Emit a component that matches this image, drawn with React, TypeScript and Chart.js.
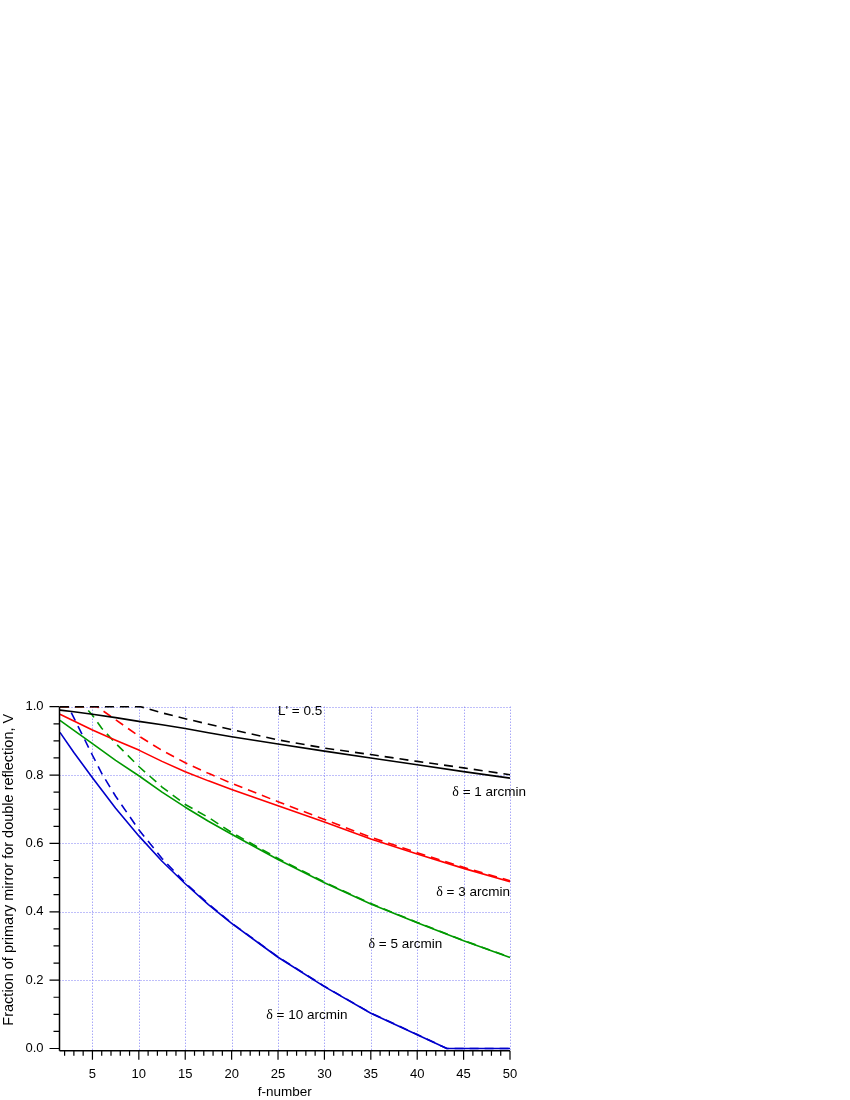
import React, { useEffect, useRef } from "react";
import { Chart, registerables } from "chart.js";

Chart.register(...registerables);

// ---------- data ----------
const fSolid = [1.5, 3, 5, 7.5, 10, 12.5, 15, 17.5, 20, 25, 30, 35, 40, 45, 50];
const vBlack1 = [0.990, 0.985, 0.978, 0.968, 0.957, 0.947, 0.936, 0.924, 0.912, 0.891, 0.870, 0.850, 0.830, 0.810, 0.791];
const vRed3 = [0.978, 0.958, 0.932, 0.902, 0.873, 0.840, 0.810, 0.783, 0.758, 0.710, 0.663, 0.613, 0.569, 0.527, 0.488];
const vGreen5 = [0.960, 0.931, 0.892, 0.843, 0.798, 0.750, 0.706, 0.665, 0.627, 0.553, 0.485, 0.423, 0.368, 0.315, 0.266];
const fBlue10 = [1.5, 3, 5, 7.5, 10, 12.5, 15, 17.5, 20, 25, 30, 35, 40, 43.2, 45, 50];
const vBlue10 = [0.925, 0.866, 0.792, 0.703, 0.622, 0.548, 0.482, 0.421, 0.366, 0.267, 0.181, 0.103, 0.040, 0, 0, 0];

const fBlackDash = [1.5, 10.2, 12.5, 15, 20, 25, 30, 35, 40, 45, 50];
const vBlackDash = [1, 1, 0.982, 0.965, 0.933, 0.903, 0.879, 0.860, 0.840, 0.821, 0.801];
const fRedDash = [1.5, 5.5, 7.5, 10, 12.5, 15, 17.5, 20, 25, 30, 35, 40, 45, 50];
const vRedDash = [1, 1, 0.962, 0.914, 0.872, 0.836, 0.805, 0.776, 0.722, 0.670, 0.618, 0.573, 0.530, 0.491];
const fGreenDash = [1.5, 4.2, 5, 6, 7.5, 10, 12.5, 15, 17.5, 20, 25, 30, 35, 40, 45, 50];
const vGreenDash = [1, 1, 0.975, 0.937, 0.893, 0.825, 0.765, 0.714, 0.676, 0.632, 0.556, 0.487, 0.424, 0.369, 0.316, 0.267];
const fBlueDash = [1.5, 2.4, 5, 6.1, 7.5, 10, 12.5, 15, 17.5, 20, 25, 30, 35, 40, 43.2, 45, 50];
const vBlueDash = [1, 1, 0.858, 0.8, 0.738, 0.640, 0.556, 0.485, 0.423, 0.367, 0.268, 0.182, 0.104, 0.041, 0, 0, 0];

const xMajorTicks = [5, 10, 15, 20, 25, 30, 35, 40, 45, 50];
const yMajorTicks = [0, 0.2, 0.4, 0.6, 0.8, 1.0];

const xTitle = "f-number";
const yTitle = "Fraction of primary mirror for double reflection, V";

const annotationTexts = ["L' = 0.5", "= 1 arcmin", "= 3 arcmin", "= 5 arcmin", "= 10 arcmin"];
const annotationGreek = [false, true, true, true, true];

// ---------- layout / style ----------
const SANS = '"Liberation Sans", Arial, Helvetica, sans-serif';
const SERIF = '"Liberation Serif", "Times New Roman", serif';
const GRID_COLOR = "#7f7ff5";
const BLACK = "#000000";
const RED = "#ff0000";
const GREEN = "#009900";
const BLUE = "#0000cc";
const annotationAt = [
  { x: 25.0, y: 0.976 },
  { x: 43.78, y: 0.740 },
  { x: 42.05, y: 0.446 },
  { x: 34.75, y: 0.295 },
  { x: 23.73, y: 0.085 },
];
const Y_TITLE_X = 8.6;
const Y_TITLE_SHIFT = -9;

const pts = (xs: number[], ys: number[]) => xs.map((x, i) => ({ x, y: ys[i] }));

const line = (data: any, color: string, dashed: boolean) => ({
  data,
  borderColor: color,
  backgroundColor: color,
  borderWidth: 1.6,
  borderDash: dashed ? [9, 6] : [],
  pointRadius: 0,
  tension: 0,
  fill: false,
  clip: 4,
  borderJoinStyle: "round" as const,
});

const framePlugin = {
  id: "igorFrame",
  beforeDatasetsDraw(chart: any) {
    const { ctx, chartArea: a, scales } = chart;
    const xs = scales.x;
    const ys = scales.y;
    ctx.save();
    ctx.strokeStyle = GRID_COLOR;
    ctx.lineWidth = 1;
    ctx.setLineDash([1, 2]);
    for (const v of xMajorTicks) {
      const px = Math.round(xs.getPixelForValue(v)) + 0.5;
      ctx.beginPath();
      ctx.moveTo(px, a.top);
      ctx.lineTo(px, a.bottom);
      ctx.stroke();
    }
    for (const v of yMajorTicks) {
      if (v === 0) continue;
      const py = Math.round(ys.getPixelForValue(v)) + 0.5;
      ctx.beginPath();
      ctx.moveTo(a.left, py);
      ctx.lineTo(a.right, py);
      ctx.stroke();
    }
    ctx.restore();
  },
  afterDatasetsDraw(chart: any) {
    const { ctx, chartArea: a, scales } = chart;
    const xs = scales.x;
    const ys = scales.y;
    ctx.save();
    ctx.setLineDash([]);
    ctx.strokeStyle = "#000";
    ctx.lineWidth = 1.5;
    // axis lines
    ctx.beginPath();
    ctx.moveTo(a.left, ys.getPixelForValue(1.0));
    ctx.lineTo(a.left, a.bottom);
    ctx.moveTo(a.left, a.bottom);
    ctx.lineTo(a.right, a.bottom);
    ctx.stroke();
    // ticks
    ctx.lineWidth = 1.2;
    ctx.beginPath();
    for (let i = 2; i <= 50; i++) {
      const px = xs.getPixelForValue(i);
      const len = i % 5 === 0 ? 9 : 5;
      ctx.moveTo(px, a.bottom);
      ctx.lineTo(px, a.bottom + len);
    }
    for (let k = 0; k <= 20; k++) {
      const v = k * 0.05;
      const py = ys.getPixelForValue(v);
      const len = k % 4 === 0 ? 10 : 6;
      ctx.moveTo(a.left, py);
      ctx.lineTo(a.left - len, py);
    }
    ctx.stroke();
    // annotations
    ctx.fillStyle = "#000";
    ctx.textBaseline = "alphabetic";
    ctx.textAlign = "left";
    annotationTexts.forEach((t, i) => {
      let px = xs.getPixelForValue(annotationAt[i].x);
      const py = ys.getPixelForValue(annotationAt[i].y);
      if (annotationGreek[i]) {
        ctx.font = `14px ${SERIF}`;
        ctx.fillText("\u03b4", px, py);
        px += ctx.measureText("\u03b4").width;
        ctx.font = `13.5px ${SANS}`;
        ctx.fillText(" " + t, px, py);
      } else {
        ctx.font = `13.5px ${SANS}`;
        ctx.fillText(t, px, py);
      }
    });
    // y-axis title
    ctx.translate(Y_TITLE_X, (a.top + a.bottom) / 2 + Y_TITLE_SHIFT);
    ctx.rotate(-Math.PI / 2);
    ctx.textAlign = "center";
    ctx.textBaseline = "middle";
    ctx.font = `14.5px ${SANS}`;
    ctx.fillText(yTitle, 0, 0);
    ctx.restore();
  },
};

export default function App() {
  const ref = useRef<HTMLCanvasElement | null>(null);

  useEffect(() => {
    if (!ref.current) return;
    Chart.defaults.font.family = SANS;
    Chart.defaults.color = "#000";
    const chart = new Chart(ref.current, {
      type: "line",
      data: {
        datasets: [
          line(pts(fSolid, vBlack1), BLACK, false),
          line(pts(fSolid, vRed3), RED, false),
          line(pts(fSolid, vGreen5), GREEN, false),
          line(pts(fBlue10, vBlue10), BLUE, false),
          line(pts(fBlackDash, vBlackDash), BLACK, true),
          line(pts(fRedDash, vRedDash), RED, true),
          line(pts(fGreenDash, vGreenDash), GREEN, true),
          line(pts(fBlueDash, vBlueDash), BLUE, true),
        ],
      },
      options: {
        animation: false,
        responsive: false,
        devicePixelRatio: 1,
        events: [],
        layout: { padding: { left: 0, right: 340, top: 706.7, bottom: 0 } },
        plugins: { legend: { display: false }, tooltip: { enabled: false }, title: { display: false } },
        scales: {
          x: {
            type: "linear",
            min: 1.45,
            max: 50,
            afterBuildTicks: (s: any) => {
              s.ticks = xMajorTicks.map((v) => ({ value: v }));
            },
            afterFit: (s: any) => {
              s.height = 49.3;
            },
            grid: { display: false, drawTicks: false },
            border: { display: false },
            ticks: {
              padding: 16,
              autoSkip: false,
              maxRotation: 0,
              color: "#000",
              font: { size: 13, family: SANS },
              callback: (v: any) => String(v),
            },
            title: { display: true, text: xTitle, color: "#000", padding: 0, font: { size: 13.5, family: SANS } },
          },
          y: {
            type: "linear",
            min: -0.0064,
            max: 1.0,
            afterBuildTicks: (s: any) => {
              s.ticks = yMajorTicks.map((v) => ({ value: v }));
            },
            afterFit: (s: any) => {
              s.width = 59.5;
            },
            grid: { display: false, drawTicks: false },
            border: { display: false },
            ticks: {
              padding: 16,
              autoSkip: false,
              color: "#000",
              font: { size: 13, family: SANS },
              callback: (v: any) => Number(v).toFixed(1),
            },
            title: { display: false },
          },
        },
      },
      plugins: [framePlugin],
    } as any);
    return () => chart.destroy();
  }, []);

  return (
    <div style={{ position: "absolute", left: 0, top: 0, width: 850, height: 1100 }}>
      <canvas ref={ref} width={850} height={1100} style={{ display: "block", width: 850, height: 1100 }} />
    </div>
  );
}
